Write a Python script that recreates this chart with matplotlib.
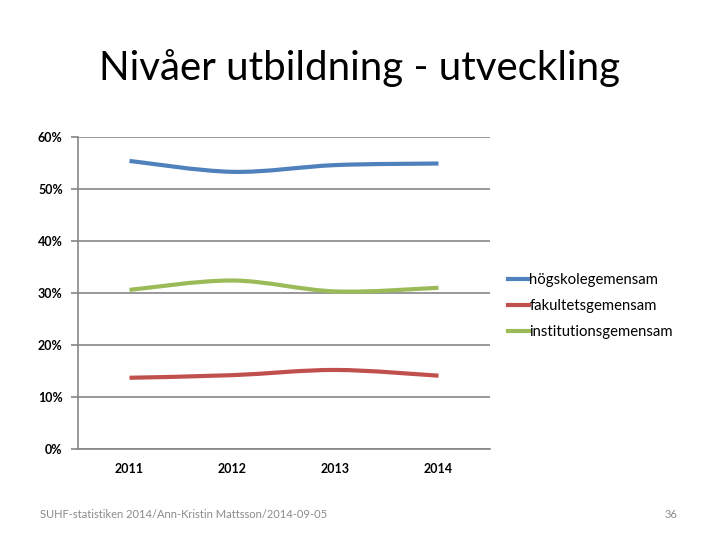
import numpy as np
import matplotlib.pyplot as plt
from matplotlib.path import Path
from matplotlib.patches import PathPatch
from matplotlib.lines import Line2D

plt.rcParams['font.family'] = ['Lato', 'DejaVu Sans']

# data
years = ['2011', '2012', '2013', '2014']
hogskole = [55.4, 53.3, 54.6, 54.9]
fakultet = [13.7, 14.2, 15.2, 14.1]
institution = [30.6, 32.4, 30.3, 31.0]
series_names = ['högskolegemensam', 'fakultetsgemensam', 'institutionsgemensam']
colors = ['#4F81BD', '#C0504D', '#9BBB59']
yticks = [0, 10, 20, 30, 40, 50, 60]


def smooth_path(xs, ys):
    # Excel-style smoothed line as cubic Bezier segments
    pts = np.column_stack([xs, ys]).astype(float)
    n = len(pts)
    verts = [pts[0]]
    codes = [Path.MOVETO]
    for i in range(n - 1):
        p0 = pts[i - 1] if i > 0 else pts[i]
        p1 = pts[i]
        p2 = pts[i + 1]
        p3 = pts[i + 2] if i + 2 < n else pts[i + 1]
        c1 = p1 + (p2 - p0) / 6.0
        c2 = p2 - (p3 - p1) / 6.0
        verts += [c1, c2, p2]
        codes += [Path.CURVE4] * 3
    return Path(verts, codes)


fig = plt.figure(figsize=(7.2, 5.4), dpi=100)
ax = fig.add_axes([78 / 720, 1 - 449 / 540, 412 / 720, 312 / 540])

x = np.arange(len(years))
for vals, c in zip([hogskole, fakultet, institution], colors):
    patch = PathPatch(smooth_path(x, vals), facecolor='none', edgecolor=c,
                      lw=3, capstyle='butt', joinstyle='round', zorder=3)
    ax.add_patch(patch)

ax.set_xlim(-0.5, 3.5)
ax.set_ylim(0, 60)
ax.set_yticks(yticks)
ax.set_yticklabels([f'{v}%' for v in yticks], fontsize=9, fontweight='bold')
ax.set_xticks(x)
ax.set_xticklabels(years, fontsize=9, fontweight='bold')
ax.tick_params(axis='x', length=0, pad=10)
ax.tick_params(axis='y', length=5, width=1.2, color='#868686', pad=6)
ax.grid(axis='y', color='#868686', lw=1.2)
ax.set_axisbelow(True)
for s in ['top', 'right']:
    ax.spines[s].set_visible(False)
for s in ['left', 'bottom']:
    ax.spines[s].set_color('#868686')
    ax.spines[s].set_linewidth(1.2)

handles = [Line2D([0], [0], color=c, lw=3) for c in colors]
fig.legend(handles, series_names, loc='upper left',
           bbox_to_anchor=(502 / 720, 1 - 267 / 540), frameon=False,
           fontsize=10.7, handlelength=1.4, handletextpad=0.05,
           labelspacing=0.8, borderaxespad=0)

fig.text(0.5, 1 - 68 / 540, 'Nivåer utbildning - utveckling', ha='center',
         va='center', fontsize=29)
fig.text(40 / 720, 1 - 515 / 540,
         'SUHF-statistiken 2014/Ann-Kristin Mattsson/2014-09-05',
         ha='left', va='center', fontsize=8, color='#8B8B8B')
fig.text(677 / 720, 1 - 515 / 540, '36', ha='right', va='center',
         fontsize=8, color='#8B8B8B')

fig.savefig('out.png', dpi=100)
